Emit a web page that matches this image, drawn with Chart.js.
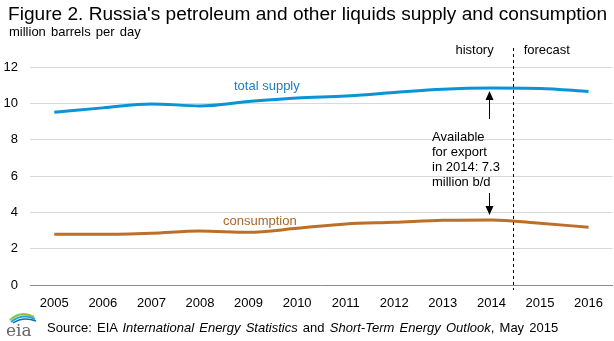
<!DOCTYPE html>
<html>
<head>
<meta charset="utf-8">
<script src="https://cdn.jsdelivr.net/npm/chart.js@4.4.1/dist/chart.umd.min.js"></script>
<style>
  html, body { margin: 0; padding: 0; background: #fff; }
  body { width: 614px; height: 341px; position: relative; overflow: hidden; font-family: "Liberation Sans", Arial, sans-serif; color: #000; }
  #chart { position: absolute; left: 0; top: 0; }
  .title { position: absolute; left: 8px; top: 3px; font-size: 19.1px; white-space: nowrap; }
  .sub { position: absolute; left: 9px; top: 24px; font-size: 13px; word-spacing: 1.5px; white-space: nowrap; }
  .source { position: absolute; left: 47px; top: 320px; font-size: 13px; word-spacing: 1.6px; white-space: nowrap; }
  .logo { position: absolute; left: 5px; top: 308px; }
</style>
</head>
<body>
<canvas id="chart" width="614" height="341"></canvas>
<div class="title">Figure 2. Russia's petroleum and other liquids supply and consumption</div>
<div class="sub">million barrels per day</div>
<svg class="logo" width="34" height="30" viewBox="0 0 34 30">
  <path d="M5 12 Q16 2 29 9" stroke="#8cc63f" stroke-width="2" fill="none"/>
  <path d="M6 14 Q17 5 30 11" stroke="#29a3dc" stroke-width="2" fill="none"/>
  <path d="M8 15 Q18 8 31 13" stroke="#0071bc" stroke-width="1.5" fill="none"/>
  <text x="1" y="28" font-family="DejaVu Serif, serif" font-size="17" fill="#666">eia</text>
</svg>
<div class="source">Source: EIA <i>International Energy Statistics</i> and <i>Short-Term Energy Outlook</i>, May 2015</div>
<script>
const years = ['2005', '2006', '2007', '2008', '2009', '2010', '2011', '2012', '2013', '2014', '2015', '2016'];
const totalSupply = [9.51, 9.75, 9.97, 9.86, 10.1, 10.3, 10.4, 10.6, 10.78, 10.84, 10.82, 10.65];
const consumption = [2.79, 2.79, 2.85, 2.97, 2.9, 3.12, 3.36, 3.45, 3.56, 3.58, 3.4, 3.18];
const yTicks = [0, 2, 4, 6, 8, 10, 12];

const supplyColor = '#0a93d6';
const consColor = '#bd6f2a';
const font = '"Liberation Sans", Arial, sans-serif';

const annotations = {
  id: 'annotations',
  afterDatasetsDraw(chart) {
    const ctx = chart.ctx;
    const x = chart.scales.x;
    const y = chart.scales.y;
    const area = chart.chartArea;
    ctx.save();
    // history / forecast divider
    const divX = (x.getPixelForValue(9) + x.getPixelForValue(10)) / 2 - 3;
    ctx.strokeStyle = '#000';
    ctx.lineWidth = 1;
    ctx.setLineDash([3, 3]);
    ctx.beginPath();
    ctx.moveTo(Math.round(divX) + 0.5, 48);
    ctx.lineTo(Math.round(divX) + 0.5, area.bottom + 5);
    ctx.stroke();
    ctx.setLineDash([]);

    ctx.font = '13px ' + font;
    ctx.textBaseline = 'middle';
    ctx.fillStyle = '#000';
    ctx.textAlign = 'right';
    ctx.fillText('history', divX - 19, 50);
    ctx.textAlign = 'left';
    ctx.fillText('forecast', divX + 11, 50);

    // series labels
    ctx.fillStyle = '#1a7fbf';
    ctx.fillText('total supply', 234, 86);
    ctx.fillStyle = '#a9672a';
    ctx.fillText('consumption', 223, 221);

    // export arrows
    const ax = Math.round(x.getPixelForValue(9) - 2) + 0.5;
    const topY = y.getPixelForValue(totalSupply[9]);
    const botY = y.getPixelForValue(consumption[9]);
    ctx.strokeStyle = '#000';
    ctx.fillStyle = '#000';
    ctx.beginPath();
    ctx.moveTo(ax, 119);
    ctx.lineTo(ax, topY + 6);
    ctx.moveTo(ax, 193);
    ctx.lineTo(ax, botY - 8);
    ctx.stroke();
    ctx.beginPath();
    ctx.moveTo(ax, topY + 3);
    ctx.lineTo(ax - 4, topY + 12);
    ctx.lineTo(ax + 4, topY + 12);
    ctx.closePath();
    ctx.fill();
    ctx.beginPath();
    ctx.moveTo(ax, botY - 5);
    ctx.lineTo(ax - 4, botY - 14);
    ctx.lineTo(ax + 4, botY - 14);
    ctx.closePath();
    ctx.fill();

    const note = ['Available', 'for export', 'in 2014: 7.3', 'million b/d'];
    ctx.textAlign = 'left';
    note.forEach((t, i) => ctx.fillText(t, 432, 137 + i * 15.3));
    ctx.restore();
  }
};

new Chart(document.getElementById('chart'), {
  type: 'line',
  data: {
    labels: years,
    datasets: [
      { label: 'total supply', data: totalSupply, borderColor: supplyColor, borderWidth: 3, pointRadius: 0, tension: 0.4, cubicInterpolationMode: 'monotone' },
      { label: 'consumption', data: consumption, borderColor: consColor, borderWidth: 3, pointRadius: 0, tension: 0.4, cubicInterpolationMode: 'monotone' }
    ]
  },
  options: {
    responsive: false,
    animation: false,
    layout: { padding: { top: 67, right: 0, bottom: 34, left: 0 } },
    plugins: { legend: { display: false }, tooltip: { enabled: false } },
    scales: {
      x: {
        offset: true,
        grid: { display: false, drawTicks: false },
        border: { display: true, color: '#8c8c8c', width: 1 },
        ticks: { color: '#000', font: { family: font, size: 13 }, padding: 11, maxRotation: 0, autoSkip: false },
        afterFit(s) { s.height = 22; }
      },
      y: {
        min: 0,
        max: 12,
        afterBuildTicks(s) { s.ticks = yTicks.map(v => ({ value: v })); },
        grid: { color: '#d9d9d9', drawTicks: false },
        border: { display: false },
        ticks: { color: '#000', font: { family: font, size: 13 }, padding: 12 },
        afterFit(s) { s.width = 30; }
      }
    }
  },
  plugins: [annotations]
});
</script>
</body>
</html>
